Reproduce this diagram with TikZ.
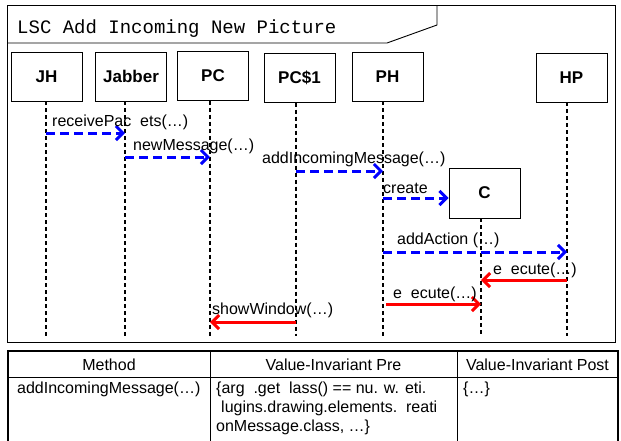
\documentclass[tikz,border=0pt]{standalone}
\usepackage{fontspec}
\setmainfont{Liberation Sans}
\newfontfamily\titlefont{Liberation Mono}
\usetikzlibrary{arrows.meta}

\begin{document}
\begin{tikzpicture}[x=1pt,y=-1pt,
  obj/.style={draw, line width=0.9pt, minimum width=71pt, minimum height=49pt,
    inner sep=0pt, font=\fontsize{17}{20}\selectfont\bfseries},
  life/.style={line width=1.7pt, dash pattern=on 4pt off 3pt},
  call/.style={blue, line width=3pt, dash pattern=on 9pt off 5pt,
    -{Straight Barb[length=7pt,width=14pt]}},
  reply/.style={red, line width=3pt, -{Straight Barb[length=7pt,width=14pt]}},
  lbl/.style={anchor=base west, inner sep=0pt, font=\fontsize{16}{19}\selectfont},
  cell/.style={inner sep=0pt, font=\fontsize{16}{19}\selectfont},
]
\useasboundingbox (0,0) rectangle (621,440);
\clip (0,0) rectangle (621,440);

% frame and title tab
\draw[line width=0.9pt] (7,5) rectangle (615,342);
\draw[line width=0.9pt] (7,43) -- (387,43) -- (437,25) -- (437,5);
\node[anchor=base west, inner sep=0pt, font=\titlefont\fontsize{19}{22}\selectfont]
  (title) at (17,33) {LSC Add Incoming New Picture};

% objects
\node[obj] (JH)     at (46.5,76.5) {JH};
\node[obj] (Jabber) at (131,76.5)  {Jabber};
\node[obj] (PC)     at (213,76)    {PC};
\node[obj] (PCone)  at (299.5,78)  {PC\$1};
\node[obj] (PH)     at (387.5,76.5){PH};
\node[obj] (HP)     at (571.5,77.5){HP};
\node[obj, minimum height=50pt] (C) at (484.5,193) {C};

% lifeline ends
\coordinate (jhT) at (46,101);   \coordinate (jhB) at (46,336);
\coordinate (jaT) at (125,101);  \coordinate (jaB) at (125,336);
\coordinate (pcT) at (210,100.5);\coordinate (pcB) at (210,336);
\coordinate (p1T) at (296,102.5);\coordinate (p1B) at (296,336);
\coordinate (phT) at (383,101);  \coordinate (phB) at (383,336);
\coordinate (hpT) at (567,102);  \coordinate (hpB) at (567,336);
\coordinate (cT)  at (481,218);  \coordinate (cB)  at (481,336);
\foreach \t/\b in {jhT/jhB,jaT/jaB,pcT/pcB,p1T/p1B,phT/phB,hpT/hpB,cT/cB}
  \draw[life] (\t) -- (\b);

% message end points
\coordinate (m1a) at (46,133);  \coordinate (m1b) at (125,133);
\coordinate (m2a) at (125,157); \coordinate (m2b) at (210,157);
\coordinate (m3a) at (296,171); \coordinate (m3b) at (383,171);
\coordinate (m4a) at (383,198);
\coordinate (m5a) at (383,252); \coordinate (m5b) at (567,252);
\coordinate (m6a) at (567,280); \coordinate (m6b) at (481,280);
\coordinate (m7a) at (386,304); \coordinate (m7b) at (481,304);
\coordinate (m8a) at (296,322); \coordinate (m8b) at (210,322);

% messages
\draw[call] (m1a) -- (m1b);
\draw[call] (m2a) -- (m2b);
\draw[call] (m3a) -- (m3b);
\draw[call] (m4a) -- (C.west |- m4a);
\draw[call] (m5a) -- (m5b);
\draw[reply] (m6a) -- (m6b);
\draw[reply] (m7a) -- (m7b);
\draw[reply] (m8a) -- (m8b);

\node[lbl] (l1) at (52,126)  {receivePac\ \ ets(…)};
\node[lbl] (l2) at (133,150) {newMessage(…)};
\node[lbl] (l3) at (262,163) {addIncomingMessage(…)};
\node[lbl] (l4) at (383,193) {create};
\node[lbl] (l5) at (397,244) {addAction (…)};
\node[lbl] (l6) at (493,274) {e\ \ ecute(…)};
\node[lbl] (l7) at (393,298) {e\ \ ecute(…)};
\node[lbl] (l8) at (212,314) {showWindow(…)};

% table
\draw[line width=0.9pt] (8,377) -- (618,377);
\draw[line width=0.9pt] (210,351) -- (210,460);
\draw[line width=0.9pt] (457,351) -- (457,460);
\draw[line width=2pt] (8,460) -- (8,351) -- (618,351) -- (618,460);

\node[cell, anchor=base] (h1) at (109,370)   {Method};
\node[cell, anchor=base] (h2) at (333.5,370) {Value-Invariant Pre};
\node[cell, anchor=base] (h3) at (537.5,370) {Value-Invariant Post};

\node[cell, anchor=base west] (r1) at (17,393)  {addIncomingMessage(…)};
\node[cell, anchor=base west] (r2a) at (216,393) {\{arg\ \ .get\ \ lass() == nu. w. eti.};
\node[cell, anchor=base west] (r2b) at (221,412) {lugins.drawing.elements.\ \ reati};
\node[cell, anchor=base west] (r2c) at (216,431) {onMessage.class, …\}};
\node[cell, anchor=base west] (r3) at (463,393) {\{…\}};
\end{tikzpicture}
\end{document}
